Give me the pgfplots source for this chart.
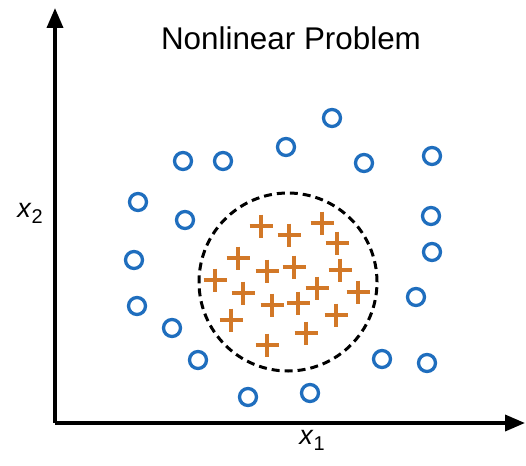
\documentclass[border=0pt]{standalone}
\usepackage{pgfplots}
\pgfplotsset{compat=1.18}
\usepackage{fontspec}
\setmainfont{Liberation Sans}
\usetikzlibrary{arrows.meta}
\definecolor{negblue}{RGB}{31,110,190}
\definecolor{posorange}{RGB}{210,120,40}

\begin{document}
\begin{tikzpicture}
\begin{axis}[
  scale only axis,
  width=470bp, height=415bp,
  xmin=55, xmax=525,
  ymin=42, ymax=457,
  axis lines=left,
  axis line style={line width=3.6bp, black, -{Triangle[length=20bp,width=16bp]}},
  xtick=\empty, ytick=\empty,
  clip=false,
]
% class 0: outer ring
\addplot[only marks, mark=o, mark size=8.5bp, mark options={line width=3.3bp, negblue}]
coordinates {
  (183,304) (223,304) (286,318) (332,347) (364,302) (432,309)
  (138,263) (185,245) (431,249) (432,213) (134,205) (137,159)
  (172,137) (416,168) (198,105) (382,106) (427,102) (248,68) (310,72)
};
% class 1: inner cluster
\addplot[only marks, mark=+, mark size=11.5bp, mark options={line width=3.4bp, posorange}]
coordinates {
  (261,239) (289,230) (322,242) (337,222) (238,207) (267,194)
  (294,198) (340,195) (215,185) (243,172) (272,160) (298,162)
  (317,177) (358,173) (231,145) (306,132) (336,150) (267,120)
};
% decision boundary
\draw[line width=3bp, dash pattern=on 8bp off 5bp, black]
  (axis cs:288,183) circle[radius=89bp];
\node[font=\fontsize{31.5}{33}\selectfont] at (axis cs:291,427) {Nonlinear Problem};
\node[font=\fontsize{27}{28}\selectfont] at (axis cs:30,252)
  {\textit{x}\raisebox{-0.22em}{\fontsize{20}{21}\selectfont 2}};
\node[font=\fontsize{27}{28}\selectfont] at (axis cs:312,25)
  {\textit{x}\raisebox{-0.22em}{\fontsize{20}{21}\selectfont 1}};
\coordinate (bl) at (axis cs:0,0);
\coordinate (tr) at (axis cs:526,465);
\end{axis}
\pgfresetboundingbox
\path[use as bounding box] (bl) rectangle (tr);
\end{tikzpicture}
\end{document}
